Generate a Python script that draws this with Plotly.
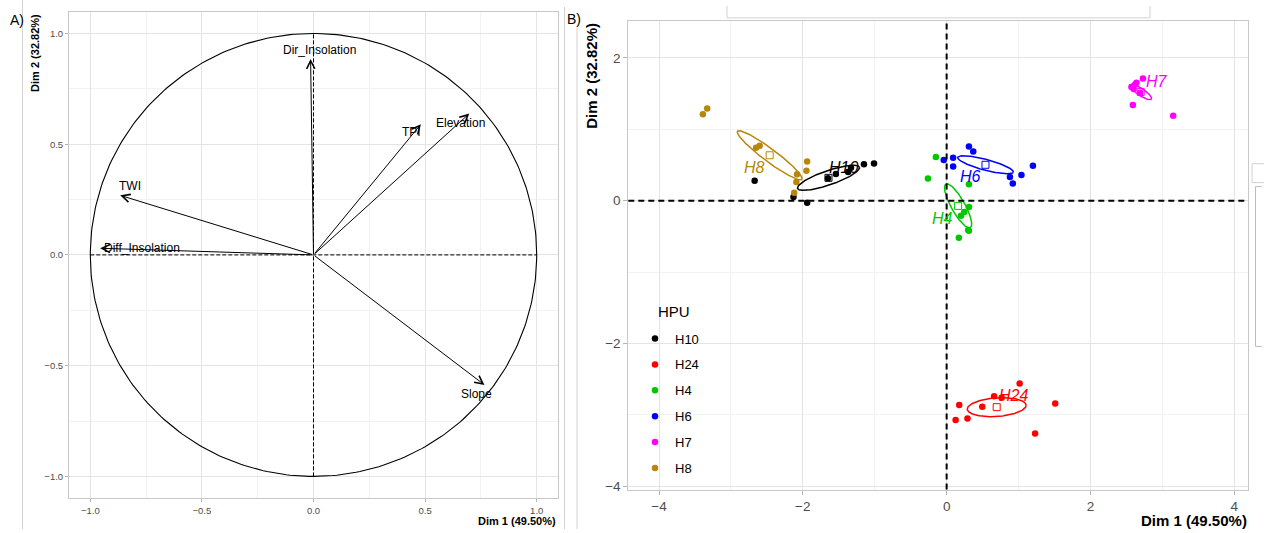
import numpy as np
import plotly.graph_objects as go

W, H = 1264, 533

# ---- Variables: correlation circle (Dim 1 / Dim 2 loadings) ----
var_names = ["Dir_Insolation", "TWI", "Diff_Insolation", "TPI", "Elevation", "Slope"]
var_dim1 = [-0.013, -0.866, -0.956, 0.481, 0.698, 0.766]
var_dim2 = [0.885, 0.269, 0.030, 0.590, 0.638, -0.587]
var_label_dim1 = [0.025, -0.821, -0.767, 0.439, 0.660, 0.730]
var_label_dim2 = [0.926, 0.309, 0.030, 0.553, 0.595, -0.627]

# ---- Individuals grouped by HPU ----
hpu_names = ["H10", "H24", "H4", "H6", "H7", "H8"]
hpu_colors = ["#000000", "#FF0000", "#00C800", "#0000FF", "#FF00FF", "#B8860B"]

h10_dim1 = [-2.67, -2.13, -1.94, -1.65, -1.54, -1.37, -1.33, -1.15, -1.01]
h10_dim2 = [0.28, 0.05, -0.03, 0.315, 0.375, 0.40, 0.46, 0.51, 0.52]
h24_dim1 = [1.015, 0.66, 0.765, 0.175, 0.495, 1.51, 0.125, 0.29, 1.23]
h24_dim2 = [-2.56, -2.74, -2.76, -2.86, -2.885, -2.84, -3.07, -3.05, -3.26]
h4_dim1 = [-0.15, -0.26, 0.31, 0.31, 0.245, 0.20, 0.31, 0.30, 0.17]
h4_dim2 = [0.61, 0.31, 0.23, -0.09, -0.16, -0.21, -0.42, -0.41, -0.52]
h6_dim1 = [0.31, 0.37, -0.04, 0.09, 0.09, 0.88, 0.92, 1.04, 1.20]
h6_dim2 = [0.76, 0.69, 0.57, 0.60, 0.48, 0.33, 0.24, 0.36, 0.49]
h7_dim1 = [2.73, 2.57, 2.62, 2.64, 2.60, 2.69, 2.59, 3.15]
h7_dim2 = [1.71, 1.59, 1.625, 1.65, 1.565, 1.51, 1.34, 1.19]
h8_dim1 = [-3.39, -3.33, -2.65, -2.60, -1.94, -1.95, -2.08, -2.09, -2.12]
h8_dim2 = [1.21, 1.29, 0.74, 0.77, 0.55, 0.42, 0.37, 0.26, 0.11]

# Group label positions
hpu_label_dim1 = [-1.43, 0.926, -0.055, 0.334, 2.92, -2.67]
hpu_label_dim2 = [0.47, -2.73, -0.25, 0.34, 1.67, 0.47]

# Confidence ellipses: semi-axes and orientation (degrees)
ell_major = [0.455, 0.41, 0.35, 0.40, 0.18, 0.56]
ell_minor = [0.10, 0.13, 0.095, 0.075, 0.05, 0.09]
ell_angle = [19, 4, -61, -15, -34, -37]

group_x = [h10_dim1, h24_dim1, h4_dim1, h6_dim1, h7_dim1, h8_dim1]
group_y = [h10_dim2, h24_dim2, h4_dim2, h6_dim2, h7_dim2, h8_dim2]


def px_x(p):
    return p / W


def px_y(p):
    return 1 - p / H


FONT = "Liberation Sans, Arial, sans-serif"
GRID = "#E4E4E4"
MINOR = "#F2F2F2"
BORDER = "#C8C8C8"
TICKC = "#4D4D4D"

fig = go.Figure()

# ---------- Panel A ----------
t = np.linspace(0, 2 * np.pi, 361)
fig.add_trace(go.Scatter(x=np.cos(t), y=np.sin(t), mode="lines",
                         line=dict(color="black", width=1.1),
                         showlegend=False, hoverinfo="skip",
                         xaxis="x", yaxis="y"))

annotations = []
for name, vx, vy, lx, ly in zip(var_names, var_dim1, var_dim2,
                                var_label_dim1, var_label_dim2):
    annotations.append(dict(x=vx, y=vy, ax=0, ay=0, xref="x", yref="y",
                            axref="x", ayref="y", showarrow=True,
                            arrowhead=5, arrowsize=1.6, arrowwidth=1,
                            arrowcolor="black", text=""))
    annotations.append(dict(x=lx, y=ly, xref="x", yref="y", text=name,
                            showarrow=False,
                            font=dict(family=FONT, size=12, color="black")))

# ---------- Panel B ----------
for name, col, gx, gy in zip(hpu_names, hpu_colors, group_x, group_y):
    fig.add_trace(go.Scatter(x=gx, y=gy, mode="markers", name=name,
                             legendgroup=name,
                             marker=dict(color=col, size=6.5),
                             xaxis="x2", yaxis="y2"))

tt = np.linspace(0, 2 * np.pi, 200)
for name, col, gx, gy, a, b, ang, lx, ly in zip(
        hpu_names, hpu_colors, group_x, group_y, ell_major, ell_minor,
        ell_angle, hpu_label_dim1, hpu_label_dim2):
    cx, cy = float(np.mean(gx)), float(np.mean(gy))
    th = np.deg2rad(ang)
    ex = cx + a * np.cos(tt) * np.cos(th) - b * np.sin(tt) * np.sin(th)
    ey = cy + a * np.cos(tt) * np.sin(th) + b * np.sin(tt) * np.cos(th)
    fig.add_trace(go.Scatter(x=ex, y=ey, mode="lines",
                             line=dict(color=col, width=1.5),
                             showlegend=False, hoverinfo="skip",
                             xaxis="x2", yaxis="y2"))
    fig.add_trace(go.Scatter(x=[cx], y=[cy], mode="markers",
                             marker=dict(symbol="square-open", size=7,
                                         color=col, line=dict(width=1)),
                             showlegend=False, hoverinfo="skip",
                             xaxis="x2", yaxis="y2"))
    annotations.append(dict(x=lx, y=ly, xref="x2", yref="y2",
                            text="<i>%s</i>" % name, showarrow=False,
                            font=dict(family=FONT, size=16, color=col)))

# Axis titles and panel tags
annotations += [
    dict(x=px_x(558), y=px_y(525), xref="paper", yref="paper",
         xanchor="right", yanchor="middle", showarrow=False,
         text="<b>Dim 1 (49.50%)</b>", font=dict(family=FONT, size=11, color="black")),
    dict(x=px_x(35), y=px_y(12), xref="paper", yref="paper",
         xanchor="center", yanchor="top", showarrow=False, textangle=-90,
         text="<b>Dim 2 (32.82%)</b>", font=dict(family=FONT, size=11, color="black")),
    dict(x=px_x(1249), y=px_y(524), xref="paper", yref="paper",
         xanchor="right", yanchor="middle", showarrow=False,
         text="<b>Dim 1 (49.50%)</b>", font=dict(family=FONT, size=15, color="black")),
    dict(x=px_x(592), y=px_y(21), xref="paper", yref="paper",
         xanchor="center", yanchor="top", showarrow=False, textangle=-90,
         text="<b>Dim 2 (32.82%)</b>", font=dict(family=FONT, size=15, color="black")),
    dict(x=px_x(8), y=px_y(20), xref="paper", yref="paper",
         xanchor="left", yanchor="middle", showarrow=False,
         text="A)", font=dict(family=FONT, size=14, color="black")),
    dict(x=px_x(565), y=px_y(19), xref="paper", yref="paper",
         xanchor="left", yanchor="middle", showarrow=False,
         text="B)", font=dict(family=FONT, size=14, color="black")),
    dict(x=px_x(656), y=px_y(314), xref="paper", yref="paper",
         xanchor="left", yanchor="middle", showarrow=False,
         text="HPU", font=dict(family=FONT, size=15, color="black")),
]

shapes = [
    # reference axes in the correlation circle
    dict(type="line", xref="x", yref="y", x0=-1, x1=1, y0=0, y1=0,
         line=dict(color="black", width=1, dash="4px,2px")),
    dict(type="line", xref="x", yref="y", x0=0, x1=0, y0=-1, y1=1,
         line=dict(color="black", width=1, dash="4px,2px")),
    # reference axes on the individuals map
    dict(type="line", xref="x2 domain", yref="y2", x0=0, x1=1, y0=0, y1=0,
         line=dict(color="black", width=2, dash="6px,4px")),
    dict(type="line", xref="x2", yref="y2 domain", x0=0, x1=0, y0=0, y1=1,
         line=dict(color="black", width=2, dash="6px,4px")),
]

# Figure frame lines
frame = dict(color="#D2D2D2", width=1)
shapes += [
    dict(type="line", xref="paper", yref="paper", x0=px_x(22.5), x1=px_x(22.5),
         y0=0, y1=1, line=frame),
    dict(type="line", xref="paper", yref="paper", x0=px_x(564.5), x1=px_x(564.5),
         y0=0, y1=px_y(7), line=frame),
    dict(type="line", xref="paper", yref="paper", x0=px_x(577), x1=px_x(577),
         y0=0, y1=px_y(28), line=frame),
    dict(type="path", xref="paper", yref="paper",
         path="M %f %f L %f %f L %f %f L %f %f" % (
             px_x(727), px_y(6), px_x(727), px_y(18),
             px_x(1150), px_y(18), px_x(1150), px_y(6)),
         line=frame),
    dict(type="path", xref="paper", yref="paper",
         path="M %f %f L %f %f L %f %f L %f %f" % (
             px_x(1264), px_y(165), px_x(1252), px_y(165),
             px_x(1252), px_y(184), px_x(1264), px_y(184)),
         line=frame),
    dict(type="path", xref="paper", yref="paper",
         path="M %f %f L %f %f L %f %f L %f %f" % (
             px_x(1262), px_y(188), px_x(1255.5), px_y(188),
             px_x(1255.5), px_y(349), px_x(1262), px_y(349)),
         line=dict(color="#BDBDBD", width=1)),
]


def axis_style(size, ticklen):
    return dict(showgrid=True, gridcolor=GRID, gridwidth=1, zeroline=False,
                showline=True, linecolor=BORDER, linewidth=1, mirror=True,
                ticks="outside", ticklen=ticklen, tickcolor="#B3B3B3",
                tickfont=dict(family=FONT, size=size, color=TICKC))


xa = axis_style(9.5, 3)
xa.update(domain=[px_x(69), px_x(558)], range=[-1.0954, 1.0954], anchor="y",
          tickvals=[-1, -0.5, 0, 0.5, 1], tickformat=".1f",
          minor=dict(tickvals=[-0.75, -0.25, 0.25, 0.75], showgrid=True,
                     gridcolor=MINOR, ticks=""))
ya = axis_style(9.5, 3)
ya.update(domain=[px_y(502), px_y(12)], range=[-1.0986, 1.0972], anchor="x",
          tickvals=[-1, -0.5, 0, 0.5, 1], tickformat=".1f",
          minor=dict(tickvals=[-0.75, -0.25, 0.25, 0.75], showgrid=True,
                     gridcolor=MINOR, ticks=""))
xb = axis_style(13.5, 4)
xb.update(domain=[px_x(628.3), px_x(1248.3)], range=[-4.427, 4.195], anchor="y2",
          tickvals=[-4, -2, 0, 2, 4],
          minor=dict(tickvals=[-3, -1, 1, 3], showgrid=True,
                     gridcolor=MINOR, ticks=""))
yb = axis_style(13.5, 4)
yb.update(domain=[px_y(493.3), px_y(21)], range=[-4.046, 2.518], anchor="x2",
          tickvals=[-4, -2, 0, 2],
          minor=dict(tickvals=[-3, -1, 1], showgrid=True,
                     gridcolor=MINOR, ticks=""))

fig.update_layout(
    width=W, height=H,
    margin=dict(l=0, r=0, t=0, b=0),
    paper_bgcolor="white", plot_bgcolor="white",
    xaxis=xa, yaxis=ya, xaxis2=xb, yaxis2=yb,
    annotations=annotations, shapes=shapes,
    showlegend=True,
    legend=dict(x=px_x(635), y=px_y(326), xanchor="left", yanchor="top",
                font=dict(family=FONT, size=13, color="black"),
                bgcolor="rgba(0,0,0,0)", tracegroupgap=6,
                itemclick=False, itemdoubleclick=False),
    font=dict(family=FONT),
)

fig.write_html("out.html")
